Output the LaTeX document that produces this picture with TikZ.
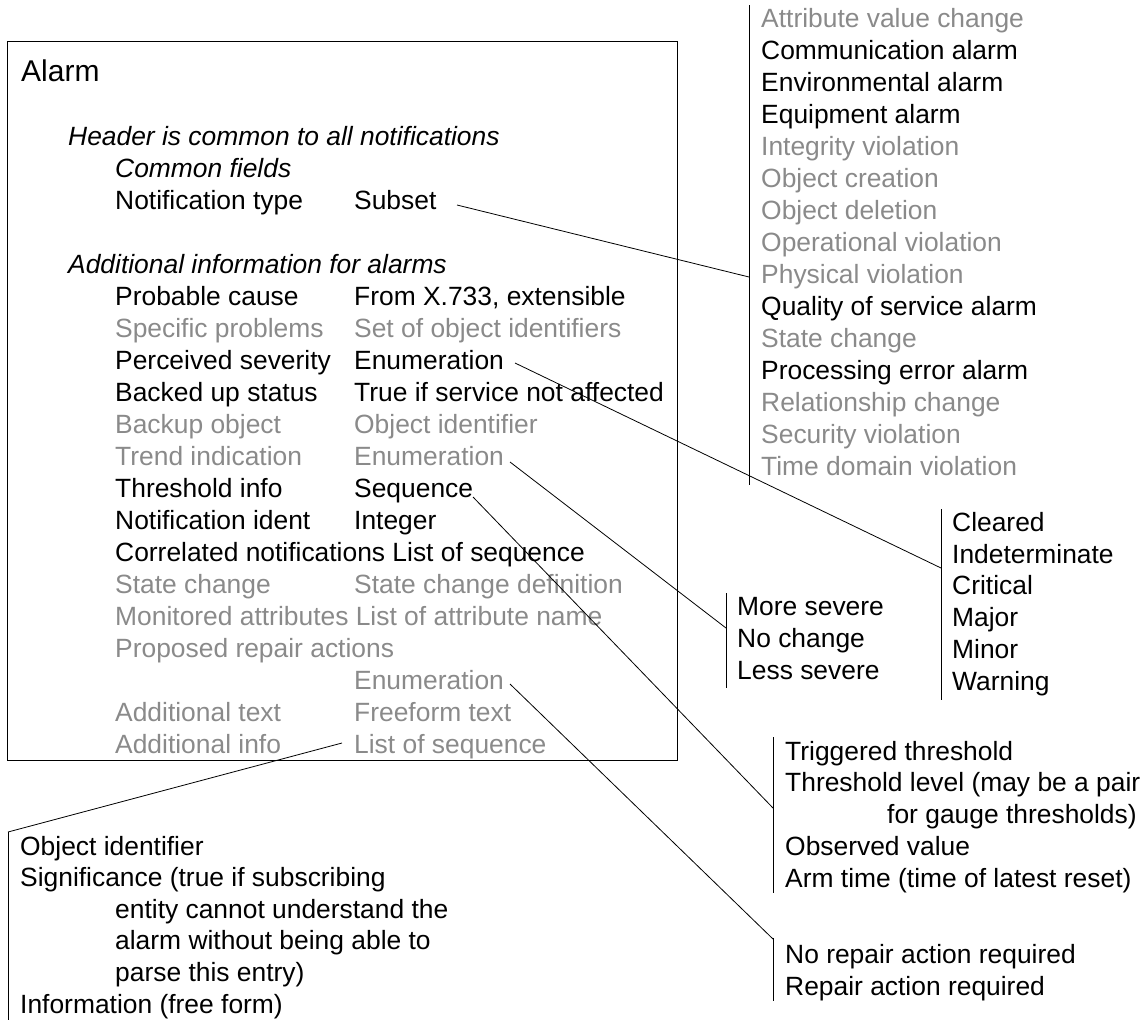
\documentclass[tikz,border=0pt]{standalone}
\usepackage{fontspec}
\setmainfont{Liberation Sans}
\definecolor{fadetext}{RGB}{138,138,138}
\begin{document}
\begin{tikzpicture}[x=1pt,y=-1pt,
  txt/.style={anchor=base west, inner sep=0pt, font=\fontsize{26.4}{32}\selectfont, text=black},
  dim/.style={txt, text=fadetext},
  itl/.style={txt, font=\fontsize{26.4}{32}\selectfont\itshape},
  ttl/.style={txt, font=\fontsize{30}{36}\selectfont},
  frame/.style={draw=black, line width=1.8pt},
  bar/.style={draw=black, line width=0.9pt},
  link/.style={draw=black, line width=0.8pt}]
\useasboundingbox (0,0) rectangle (1147,1020);

% main box
\draw[frame] (7.5,41.5) rectangle (677.5,760.5);
\node[ttl] (alarm) at (21,81) {Alarm};
\node[itl] (hdr) at (68,145) {Header is common to all notifications};
\node[itl] (cf) at (115,177) {Common fields};
\node[txt] (nt) at (115,209) {Notification type};
\node[txt] (ntv) at (354,209) {Subset};
\node[itl] (addl) at (68,273) {Additional information for alarms};
\node[txt] (pc) at (115,305) {Probable cause};
\node[txt] (pcv) at (354,305) {From X.733, extensible};
\node[dim] (sp) at (115,337) {Specific problems};
\node[dim] (spv) at (354,337) {Set of object identifiers};
\node[txt] (ps) at (115,369) {Perceived severity};
\node[txt] (psv) at (354,369) {Enumeration};
\node[txt] (bu) at (115,401) {Backed up status};
\node[txt] (buv) at (354,401) {True if service not affected};
\node[dim] (bo) at (115,433) {Backup object};
\node[dim] (bov) at (354,433) {Object identifier};
\node[dim] (ti) at (115,465) {Trend indication};
\node[dim] (tiv) at (354,465) {Enumeration};
\node[txt] (th) at (115,497) {Threshold info};
\node[txt] (thv) at (354,497) {Sequence};
\node[txt] (ni) at (115,529) {Notification ident};
\node[txt] (niv) at (354,529) {Integer};
\node[txt] (cn) at (115,561) {Correlated notifications List of sequence};
\node[dim] (sc) at (115,593) {State change};
\node[dim] (scv) at (354,593) {State change definition};
\node[dim] (ma) at (115,625) {Monitored attributes List of attribute name};
\node[dim] (pr) at (115,657) {Proposed repair actions};
\node[dim] (prv) at (354,689) {Enumeration};
\node[dim] (at) at (115,721) {Additional text};
\node[dim] (atv) at (354,721) {Freeform text};
\node[dim] (ai) at (115,753) {Additional info};
\node[dim] (aiv) at (354,753) {List of sequence};

% list 1: notification types
\coordinate (b1t) at (749,5);
\coordinate (b1b) at (749,485);
\draw[bar] (b1t) -- (b1b);
\node[dim] (l1a) at (761,27) {Attribute value change};
\node[txt] (l1b) at (761,59) {Communication alarm};
\node[txt] (l1c) at (761,91) {Environmental alarm};
\node[txt] (l1d) at (761,123) {Equipment alarm};
\node[dim] (l1e) at (761,155) {Integrity violation};
\node[dim] (l1f) at (761,187) {Object creation};
\node[dim] (l1g) at (761,219) {Object deletion};
\node[dim] (l1h) at (761,251) {Operational violation};
\node[dim] (l1i) at (761,283) {Physical violation};
\node[txt] (l1j) at (761,315) {Quality of service alarm};
\node[dim] (l1k) at (761,347) {State change};
\node[txt] (l1l) at (761,379) {Processing error alarm};
\node[dim] (l1m) at (761,411) {Relationship change};
\node[dim] (l1n) at (761,443) {Security violation};
\node[dim] (l1o) at (761,475) {Time domain violation};

% list 2: severities
\coordinate (b2t) at (941,509);
\coordinate (b2b) at (941,700);
\draw[bar] (b2t) -- (b2b);
\node[txt] (l2a) at (952,531.5) {Cleared};
\node[txt] (l2b) at (952,563.2) {Indeterminate};
\node[txt] (l2c) at (952,594.9) {Critical};
\node[txt] (l2d) at (952,626.6) {Major};
\node[txt] (l2e) at (952,658.3) {Minor};
\node[txt] (l2f) at (952,690) {Warning};

% list 3: trend
\coordinate (b3t) at (726,593);
\coordinate (b3b) at (726,688);
\draw[bar] (b3t) -- (b3b);
\node[txt] (l3a) at (737,615) {More severe};
\node[txt] (l3b) at (737,647) {No change};
\node[txt] (l3c) at (737,679) {Less severe};

% list 4: threshold
\coordinate (b4t) at (773,737);
\coordinate (b4b) at (773,893);
\draw[bar] (b4t) -- (b4b);
\node[txt] (l4a) at (785,760) {Triggered threshold};
\node[txt] (l4b) at (785,791) {Threshold level (may be a pair};
\node[txt] (l4c) at (887,823) {for gauge thresholds)};
\node[txt] (l4d) at (785,855) {Observed value};
\node[txt] (l4e) at (785,887) {Arm time (time of latest reset)};

% list 5: repair
\coordinate (b5t) at (773,938);
\coordinate (b5b) at (773,1001);
\draw[bar] (b5t) -- (b5b);
\node[txt] (l5a) at (785,963) {No repair action required};
\node[txt] (l5b) at (785,995) {Repair action required};

% list 6: additional info
\coordinate (b6t) at (8,832);
\coordinate (b6b) at (8,1020);
\draw[bar] (b6t) -- (b6b);
\node[txt] (l6a) at (20,855) {Object identifier};
\node[txt] (l6b) at (20,886.6) {Significance (true if subscribing};
\node[txt] (l6c) at (115,918.2) {entity cannot understand the};
\node[txt] (l6d) at (115,949.8) {alarm without being able to};
\node[txt] (l6e) at (115,981.4) {parse this entry)};
\node[txt] (l6f) at (20,1013) {Information (free form)};

% connectors
\coordinate (s1) at (457,205);
\coordinate (e1) at (749,277);
\draw[link] (s1) -- (e1);
\coordinate (s2) at (515,363);
\coordinate (e2) at (941,568);
\draw[link] (s2) -- (e2);
\coordinate (s3) at (510,462);
\coordinate (e3) at (726,628);
\draw[link] (s3) -- (e3);
\coordinate (s4) at (473,497);
\coordinate (e4) at (773,808);
\draw[link] (s4) -- (e4);
\coordinate (s5) at (510,684);
\coordinate (e5) at (773,939);
\draw[link] (s5) -- (e5);
\coordinate (s6) at (342,743);
\coordinate (e6) at (8,832);
\draw[link] (s6) -- (e6);
\end{tikzpicture}
\end{document}
